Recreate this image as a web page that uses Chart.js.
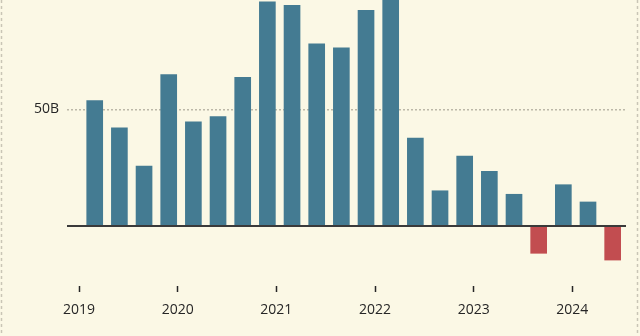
<!DOCTYPE html>
<html>
<head>
<meta charset="utf-8">
<script src="https://cdn.jsdelivr.net/npm/chart.js@4"></script>
<style>
  body { margin: 0; background: #fbf8e5; }
  canvas { display: block; }
</style>
</head>
<body>
<canvas id="grafico" width="640" height="336"></canvas>
<script>
// DATOS
const trimestres = [
  "2019 T1", "2019 T2", "2019 T3", "2019 T4",
  "2020 T1", "2020 T2", "2020 T3", "2020 T4",
  "2021 T1", "2021 T2", "2021 T3", "2021 T4",
  "2022 T1", "2022 T2", "2022 T3", "2022 T4",
  "2023 T1", "2023 T2", "2023 T3", "2023 T4",
  "2024 T1", "2024 T2"
];
const valores = [
  53.7, 42.1, 25.7, 64.9,
  44.6, 46.9, 63.7, 96.1,
  94.6, 78.1, 76.4, 92.4,
  101, 37.7, 15.1, 30.0,
  23.4, 13.6, -11.7, 17.7,
  10.3, -14.6
];
const anios = [2019, 2020, 2021, 2022, 2023, 2024];
const ticksY = [50];

const azul = '#447b92';
const rojo = '#c24d50';
const texto = '#262626';

// posicion de cada trimestre en el eje (años)
function posicion(etiqueta) {
  const [anio, t] = etiqueta.split(' ');
  return +anio + (+t.slice(1) - 1) * 0.25 + 0.159;
}

const datos = trimestres.map((t, i) => ({ x: posicion(t), y: valores[i] }));

const bordes = {
  id: 'bordes',
  beforeDraw(chart) {
    const ctx = chart.ctx;
    ctx.save();
    ctx.strokeStyle = '#c9c5b6';
    ctx.lineWidth = 1.5;
    ctx.setLineDash([3, 3]);
    [1.5, 637.5].forEach(x => {
      ctx.beginPath();
      ctx.moveTo(x, 0);
      ctx.lineTo(x, chart.height);
      ctx.stroke();
    });
    ctx.restore();
  }
};

const lineaCero = {
  id: 'lineaCero',
  afterDatasetsDraw(chart) {
    const ctx = chart.ctx;
    const y = chart.scales.y.getPixelForValue(0);
    const area = chart.chartArea;
    ctx.save();
    ctx.strokeStyle = '#3a3a3a';
    ctx.lineWidth = 2;
    ctx.beginPath();
    ctx.moveTo(area.left, y);
    ctx.lineTo(area.right + 1, y);
    ctx.stroke();
    ctx.restore();
  }
};

new Chart(document.getElementById('grafico'), {
  type: 'bar',
  data: {
    datasets: [{
      data: datos,
      backgroundColor: ctx => (ctx.raw && ctx.raw.y < 0) ? rojo : azul,
      borderWidth: 0,
      barThickness: 16
    }]
  },
  options: {
    responsive: false,
    animation: false,
    devicePixelRatio: 1,
    layout: { padding: { left: 0, right: 15, top: 0, bottom: 0 } },
    plugins: {
      legend: { display: false },
      tooltip: { enabled: false }
    },
    scales: {
      x: {
        type: 'linear',
        offset: false,
        min: 2018.878,
        max: 2024.534,
        border: { display: false },
        grid: {
          offset: false,
          drawOnChartArea: false,
          drawTicks: true,
          tickLength: 6,
          tickWidth: 1.5,
          tickColor: texto
        },
        ticks: {
          padding: 10,
          color: texto,
          font: { family: 'Open Sans', size: 14 },
          maxRotation: 0,
          autoSkip: false,
          callback: v => String(v)
        },
        afterBuildTicks: s => { s.ticks = anios.map(v => ({ value: v })); },
        afterFit: s => { s.height = 50; s.paddingLeft = 0; s.paddingRight = 0; }
      },
      y: {
        min: -25.714,
        max: 96.857,
        border: { display: false, dash: [2, 2] },
        grid: {
          color: '#bcb8a8',
          lineWidth: 1.5,
          drawTicks: false
        },
        ticks: {
          padding: 8,
          color: texto,
          font: { family: 'Open Sans', size: 14 },
          callback: v => v + 'B'
        },
        afterBuildTicks: s => { s.ticks = ticksY.map(v => ({ value: v })); },
        afterFit: s => { s.width = 67; s.paddingTop = 0; s.paddingBottom = 0; }
      }
    }
  },
  plugins: [bordes, lineaCero]
});
</script>
</body>
</html>
